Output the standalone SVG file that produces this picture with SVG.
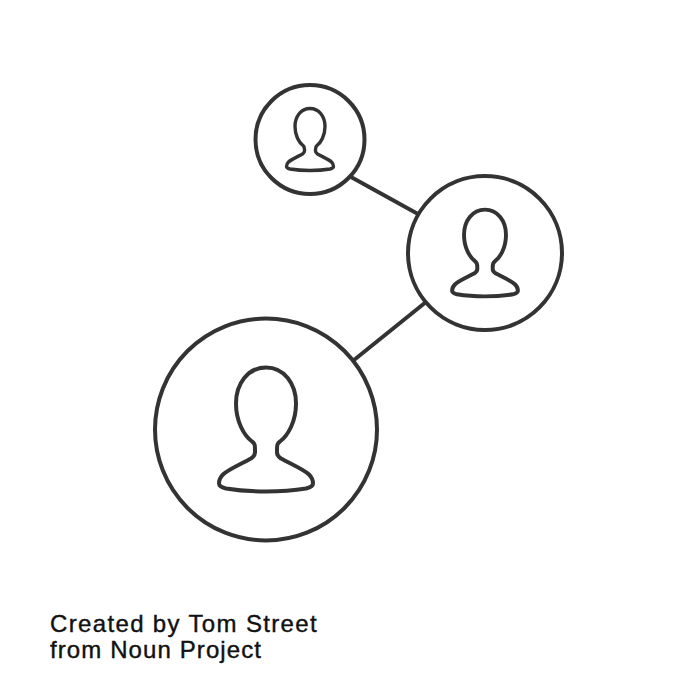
<svg xmlns="http://www.w3.org/2000/svg" width="700" height="700" viewBox="0 0 700 700">
<style>
.c{fill:none;stroke:#333;stroke-width:4}
.p{fill:none;stroke:#333;stroke-linejoin:round}
.t{font-family:"Liberation Sans",Arial,sans-serif;font-size:24px;fill:#111;stroke:#111;stroke-width:.4}
</style>
<defs><path id="person" d="M0,-62 C-18,-62 -30,-46 -30,-26 C-30,-8 -22,6 -14,12 C-11,14 -11,16 -11,20 L-11,23 C-11,26 -12,27 -15,29 C-24,34 -38,40 -43,45 C-46,48 -47,50 -47,54 C-47,57 -44,58 -40,59 C-28,61 -12,62 0,62 C12,62 28,61 40,59 C44,58 47,57 47,54 C47,50 46,48 43,45 C38,40 24,34 15,29 C12,27 11,26 11,23 L11,20 C11,16 11,14 14,12 C22,6 30,-8 30,-26 C30,-46 18,-62 0,-62 Z"/></defs>
<g id="connectors"><line class="c" x1="351" y1="177" x2="418" y2="214"/><line class="c" x1="354" y1="360" x2="426" y2="302"/></g>
<g id="node-small"><circle class="c" cx="310" cy="139.500" r="54.500"/><use href="#person" class="p" stroke-width="6.800" transform="translate(310,139.500) scale(.5)"/></g>
<g id="node-medium"><circle class="c" cx="485" cy="253" r="77"/><use href="#person" class="p" stroke-width="5.600" transform="translate(485,253) scale(.7)"/></g>
<g id="node-large"><circle class="c" cx="266" cy="429.500" r="111"/><use href="#person" class="p" stroke-width="4" transform="translate(266,429.500)"/></g>
<text class="t" x="50" y="632" letter-spacing="1.35">Created by Tom Street</text>
<text class="t" x="50" y="658" letter-spacing="1.1">from Noun Project</text>
</svg>
